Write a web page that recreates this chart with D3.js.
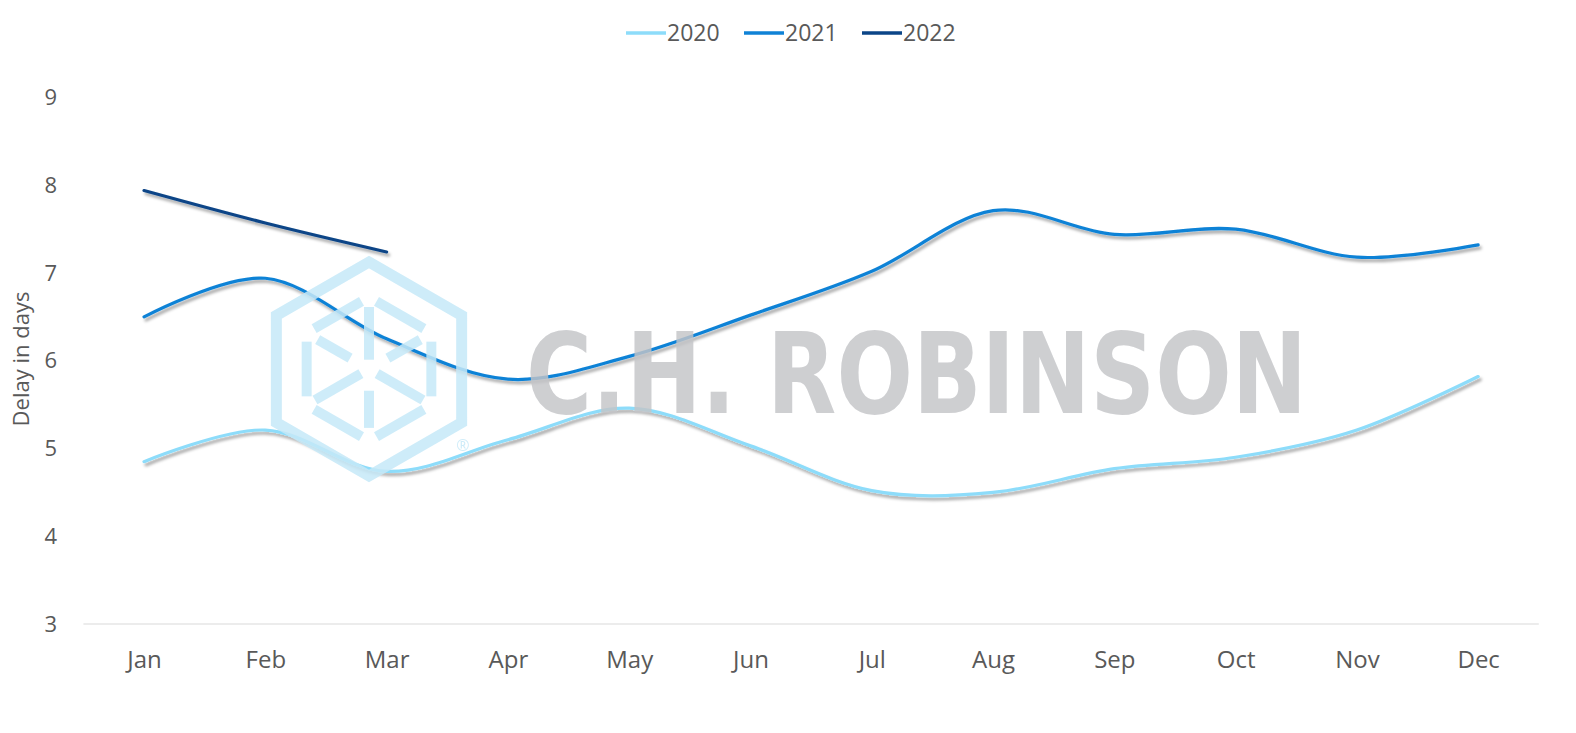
<!DOCTYPE html>
<html><head><meta charset="utf-8">
<script src="https://cdn.jsdelivr.net/npm/d3@7"></script>
<style>
html,body{margin:0;padding:0;background:#fff;}
svg{display:block;font-family:"Open Sans",sans-serif;}
</style></head>
<body>
<svg id="chart" width="1576" height="733"></svg>
<script>
const months = ["Jan","Feb","Mar","Apr","May","Jun","Jul","Aug","Sep","Oct","Nov","Dec"];
const yTicks = [3,4,5,6,7,8,9];
const seriesNames = ["2020","2021","2022"];
const values2020 = [4.85,5.21,4.74,5.10,5.46,5.03,4.52,4.50,4.77,4.90,5.21,5.82];
const values2021 = [6.50,6.94,6.25,5.79,6.05,6.52,7.02,7.71,7.44,7.50,7.18,7.32];
const values2022 = [7.94,7.57,7.24];
const colors = ["#8ddcfa","#0f82d6","#0b4587"];
const yTitle = "Delay in days";
const watermark = "C.H. ROBINSON";

const svg = d3.select("#chart");
const x = d3.scalePoint().domain(months).range([83.4,1538.8]).padding(0.5);
const y = d3.scaleLinear().domain([3,9]).range([624,97.5]);

const defs = svg.append("defs");
const f = defs.append("filter").attr("id","shadow").attr("x","-5%").attr("y","-20%").attr("width","110%").attr("height","140%");
f.append("feDropShadow").attr("dx",2).attr("dy",3).attr("stdDeviation",1.8).attr("flood-color","#000").attr("flood-opacity",0.35);

// baseline
svg.append("line").attr("x1",83.4).attr("x2",1538.8).attr("y1",y(3)).attr("y2",y(3))
  .attr("stroke","#d9d9d9").attr("stroke-width",1.2);

// y axis labels
const yAxis = d3.axisLeft(y).tickValues(yTicks).tickSize(0).tickPadding(0).tickFormat(d3.format("d"));
const gy = svg.append("g").attr("transform","translate(57,0)").call(yAxis);
gy.select(".domain").remove();
gy.selectAll("text").attr("font-size",22).attr("fill","#595959").attr("font-family","Open Sans");

// x axis labels
const xAxis = d3.axisBottom(x).tickSize(0).tickPadding(0);
const gx = svg.append("g").attr("transform","translate(0,651)").call(xAxis);
gx.select(".domain").remove();
gx.selectAll("text").attr("font-size",24).attr("fill","#595959").attr("font-family","Open Sans");

// y title
svg.append("text").attr("transform","translate(29,359) rotate(-90)").attr("text-anchor","middle")
  .attr("font-size",22).attr("fill","#595959").text(yTitle);

// lines
const line = d3.line().x((d,i)=>x(months[i])).y(d=>y(d)).curve(d3.curveCatmullRom.alpha(0));
const allSeries = [values2020, values2021, values2022];
allSeries.forEach((vals,i)=>{
  svg.append("path").datum(vals).attr("d",line).attr("fill","none")
    .attr("stroke",colors[i]).attr("stroke-width",3.2).attr("stroke-linecap","round")
    .attr("filter","url(#shadow)");
});

// watermark logo
const wm = svg.append("g").attr("opacity",0.85);
const cx = 369, cy = 369, R = 107;
const hex = r => d3.range(6).map(k=>{const a = Math.PI/180*(60*k-90); return [cx+r*Math.cos(a), cy+r*Math.sin(a)];});
wm.append("polygon").attr("points",hex(R).map(p=>p.join(",")).join(" "))
  .attr("fill","none").attr("stroke","#c6e9f8").attr("stroke-width",11).attr("stroke-linejoin","miter");
const inner = hex(72);
for(let k=0;k<6;k++){
  const p = inner[k], q = inner[(k+1)%6];
  const t1 = 0.12, t2 = 0.88;
  wm.append("line").attr("x1",p[0]+(q[0]-p[0])*t1).attr("y1",p[1]+(q[1]-p[1])*t1)
    .attr("x2",p[0]+(q[0]-p[0])*t2).attr("y2",p[1]+(q[1]-p[1])*t2)
    .attr("stroke","#c6e9f8").attr("stroke-width",10);
}
[[0,-62],[-54,31],[54,31]].forEach(d=>{
  wm.append("line").attr("x1",cx+d[0]*0.15).attr("y1",cy+d[1]*0.15).attr("x2",cx+d[0]).attr("y2",cy+d[1])
    .attr("stroke","#c6e9f8").attr("stroke-width",10);
});
[[-54,-31],[54,-31],[0,62]].forEach(d=>{
  wm.append("line").attr("x1",cx+d[0]*0.35).attr("y1",cy+d[1]*0.35).attr("x2",cx+d[0]*0.95).attr("y2",cy+d[1]*0.95)
    .attr("stroke","#c6e9f8").attr("stroke-width",10);
});
wm.append("text").attr("x",463).attr("y",451).attr("text-anchor","middle").attr("font-size",16)
  .attr("fill","#c6e9f8").text("®");

// watermark text
svg.append("text").attr("x",526).attr("y",413).attr("font-family","DejaVu Sans").attr("font-weight","bold")
  .attr("font-size",112).attr("textLength",781).attr("lengthAdjust","spacingAndGlyphs")
  .attr("fill","#c4c5c8").attr("opacity",0.82).text(watermark);

// legend
const legendX = [626, 744, 862];
const lg = svg.append("g");
seriesNames.forEach((s,i)=>{
  lg.append("line").attr("x1",legendX[i]).attr("x2",legendX[i]+40).attr("y1",33).attr("y2",33)
    .attr("stroke",colors[i]).attr("stroke-width",3.5);
  lg.append("text").attr("x",legendX[i]+41).attr("y",41).attr("font-size",23).attr("fill","#595959").text(s);
});
</script>
</body></html>
